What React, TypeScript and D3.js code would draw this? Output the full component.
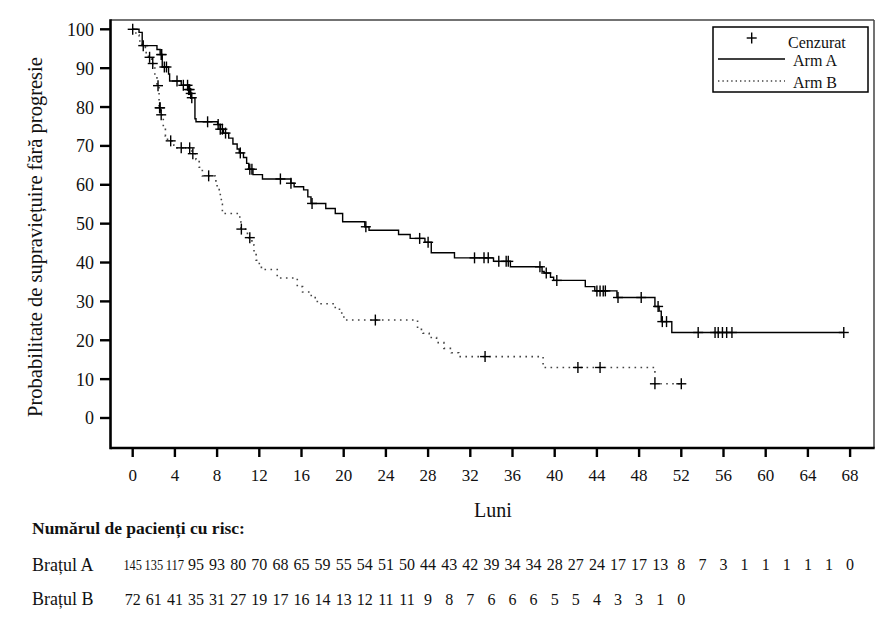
import React from "react";
import * as d3 from "d3";

// Kaplan-Meier step data (months, % progression-free)
const armATimes = [0, 0.6, 0.9, 2.3, 2.6, 2.8, 3.4, 3.5, 4.6, 5.25, 5.45, 5.55, 5.9, 6.0, 8.05, 8.3, 8.6, 9.1, 9.5, 9.9, 10.1, 10.5, 10.8, 11.0, 11.4, 12.3, 15.0, 15.3, 16.2, 16.6, 16.9, 18.3, 19.2, 19.9, 22.0, 22.4, 25.2, 26.3, 27.7, 28.3, 30.5, 34.2, 35.8, 38.8, 39.0, 39.6, 39.9, 42.9, 43.8, 45.9, 49.5, 49.9, 50.1, 51.1];
const armASurv = [100, 99.2, 95.8, 94.8, 93.5, 90.3, 88.5, 86.7, 85.6, 84.5, 83.5, 82.4, 77, 76.2, 75.5, 74.3, 73.3, 72, 70.5, 69.2, 68.2, 67, 65.5, 64, 62.6, 61.5, 60.4, 59.5, 58.7, 56.9, 55.2, 53.9, 52.6, 50.5, 49.2, 48.3, 47.2, 46.2, 45.2, 42.5, 41.2, 40.3, 38.9, 37.7, 37.3, 36.2, 35.4, 33.8, 32.7, 31.0, 28.7, 27.5, 24.8, 22.0];
const armAEnd = 67.4;
const armACensor = [0, 1.0, 2.7, 2.75, 3.0, 3.2, 4.2, 4.8, 5.2, 5.3, 5.4, 5.5, 5.6, 7.1, 8.1, 8.3, 8.5, 8.8, 10.2, 11.1, 11.3, 14.0, 15.0, 17.0, 22.1, 27.2, 28.0, 32.4, 33.3, 33.7, 34.7, 35.4, 35.6, 38.6, 39.2, 40.2, 44.0, 44.3, 44.6, 44.8, 46.0, 48.2, 49.8, 50.2, 50.6, 53.6, 55.2, 55.5, 55.9, 56.3, 56.8, 67.4];

const armBTimes = [0, 0.3, 0.6, 0.9, 1.2, 1.5, 1.8, 2.1, 2.3, 2.5, 2.65, 2.9, 3.1, 3.3, 3.9, 4.2, 5.6, 6.0, 6.3, 6.6, 7.8, 8.0, 8.2, 8.4, 8.5, 10.15, 10.25, 10.7, 11.0, 11.3, 11.5, 11.7, 12.0, 12.2, 13.7, 15.6, 16.1, 16.8, 17.3, 17.5, 19.2, 19.6, 19.9, 20.2, 27.0, 27.5, 28.1, 28.8, 29.5, 30.2, 30.9, 38.9, 49.5];
const armBSurv = [100, 98.5, 97, 95.5, 94, 92.8, 91.2, 88.5, 85.5, 79.8, 78, 75, 72.5, 71.3, 70.2, 69.5, 68, 66.5, 64.5, 62.3, 61, 59, 57.5, 55, 52.6, 50.5, 48.6, 47.5, 46.4, 44.5, 42.5, 40.6, 39.3, 38.2, 36, 33.8, 32.4, 31.5, 30.3, 29.4, 28.2, 27, 26, 25.2, 22.8, 21.8, 20.7, 19.4, 17.9, 16.8, 15.8, 13.0, 8.8];
const armBEnd = 52.0;
const armBCensor = [1.6, 1.9, 2.4, 2.55, 2.6, 2.7, 3.6, 4.6, 5.4, 5.7, 7.2, 10.3, 11.1, 23.0, 33.4, 42.2, 44.3, 49.5, 52.0];

const xTicks = d3.range(0, 69, 4);
const yTicks = d3.range(0, 101, 10);

const riskTimes = d3.range(0, 69, 2);
const riskA = [145, 135, 117, 95, 93, 80, 70, 68, 65, 59, 55, 54, 51, 50, 44, 43, 42, 39, 34, 34, 28, 27, 24, 17, 17, 13, 8, 7, 3, 1, 1, 1, 1, 1, 0];
const riskB = [72, 61, 41, 35, 31, 27, 19, 17, 16, 14, 13, 12, 11, 11, 9, 8, 7, 6, 6, 6, 5, 5, 4, 3, 3, 1, 0];

const FONT = "'Liberation Serif', 'Times New Roman', serif";

function survAt(times: number[], surv: number[], t: number) {
  let v = surv[0];
  for (let i = 0; i < times.length; i++) if (times[i] <= t) v = surv[i];
  return v;
}

export default function App() {
  const W = 894, H = 630;
  const frame = { left: 110.5, right: 874, top: 20, bottom: 448 };
  const x = d3.scaleLinear().domain([0, 68]).range([132.7, 850.1]);
  const y = d3.scaleLinear().domain([0, 100]).range([418, 29.3]);

  const line = d3
    .line<[number, number]>()
    .x((d) => x(d[0]))
    .y((d) => y(d[1]))
    .curve(d3.curveStepAfter);

  const ptsA: [number, number][] = armATimes.map((t, i) => [t, armASurv[i]] as [number, number]);
  ptsA.push([armAEnd, armASurv[armASurv.length - 1]]);
  const ptsB: [number, number][] = armBTimes.map((t, i) => [t, armBSurv[i]] as [number, number]);
  ptsB.push([armBEnd, armBSurv[armBSurv.length - 1]]);

  const plus = (cx: number, cy: number, key: string) => (
    <g key={key} stroke="#000" strokeWidth={1.4}>
      <line x1={cx - 5} x2={cx + 5} y1={cy} y2={cy} />
      <line x1={cx} x2={cx} y1={cy - 5.5} y2={cy + 5.5} />
    </g>
  );

  const riskText = (n: number, i: number, yy: number, key: string) => {
    const s = String(n);
    const three = s.length >= 3;
    const extra = three ? { textLength: 18.5, lengthAdjust: "spacingAndGlyphs" as const } : {};
    return (
      <text key={key} x={x(riskTimes[i])} y={yy} textAnchor="middle" fontSize={three ? 15 : 16} fill="#111" {...extra}>
        {s}
      </text>
    );
  };

  return (
    <svg width={W} height={H} style={{ position: "absolute", left: 0, top: 0, background: "#fff" }} fontFamily={FONT}>
      <rect x={0} y={0} width={W} height={H} fill="#fff" />
      {/* frame */}
      <line x1={frame.left} x2={frame.right} y1={frame.top} y2={frame.top} stroke="#444" strokeWidth={1.5} />
      <line x1={frame.right} x2={frame.right} y1={frame.top} y2={frame.bottom} stroke="#444" strokeWidth={1.5} />
      <line x1={frame.left} x2={frame.left} y1={frame.top - 0.7} y2={frame.bottom + 1.2} stroke="#000" strokeWidth={2.6} />
      <line x1={frame.left} x2={frame.right + 0.7} y1={frame.bottom} y2={frame.bottom} stroke="#000" strokeWidth={2.6} />

      {/* y axis */}
      {yTicks.map((v) => (
        <g key={"y" + v}>
          <line x1={100} x2={frame.left} y1={y(v)} y2={y(v)} stroke="#000" strokeWidth={2.4} />
          <text x={94} y={y(v)} dy="0.36em" textAnchor="end" fontSize={18} fill="#111">
            {v}
          </text>
        </g>
      ))}
      <text
        transform={`translate(42, ${237}) rotate(-90)`}
        textAnchor="middle"
        fontSize={20.5}
        fill="#111"
      >
        Probabilitate de supraviețuire fără progresie
      </text>

      {/* x axis */}
      {xTicks.map((v) => (
        <g key={"x" + v}>
          <line x1={x(v)} x2={x(v)} y1={frame.bottom} y2={457} stroke="#000" strokeWidth={2.4} />
          <text x={x(v)} y={481} textAnchor="middle" fontSize={17} fill="#111">
            {v}
          </text>
        </g>
      ))}
      <text x={493} y={517} textAnchor="middle" fontSize={20} fill="#111">
        Luni
      </text>

      {/* curves */}
      <path d={line(ptsB) || ""} fill="none" stroke="#444" strokeWidth={1.6} strokeDasharray="1.6 4.4" />
      <path d={line(ptsA) || ""} fill="none" stroke="#000" strokeWidth={1.4} />
      {armACensor.map((t, i) => plus(x(t), y(survAt(armATimes, armASurv, t)), "ca" + i))}
      {armBCensor.map((t, i) => plus(x(t), y(survAt(armBTimes, armBSurv, t)), "cb" + i))}

      {/* legend */}
      <rect x={713} y={27} width={155} height={65} fill="#fff" stroke="#000" strokeWidth={1.5} />
      {plus(751.7, 38, "lg")}
      <text x={788} y={48} fontSize={16} fill="#111">Cenzurat</text>
      <line x1={718} x2={785} y1={59} y2={59} stroke="#000" strokeWidth={1.4} />
      <text x={793} y={66} fontSize={16} fill="#111">Arm A</text>
      <line x1={718} x2={785} y1={81} y2={81} stroke="#444" strokeWidth={1.4} strokeDasharray="1.4 3" />
      <text x={793} y={88} fontSize={16} fill="#111">Arm B</text>

      {/* risk table */}
      <text x={32} y={534} fontSize={17.5} fontWeight="bold" fill="#111">
        Numărul de pacienți cu risc:
      </text>
      <text x={32} y={571} fontSize={18} fill="#111">Brațul A</text>
      <text x={32} y={605} fontSize={18} fill="#111">Brațul B</text>
      {riskA.map((n, i) => riskText(n, i, 570, "ra" + i))}
      {riskB.map((n, i) => riskText(n, i, 605, "rb" + i))}
    </svg>
  );
}
